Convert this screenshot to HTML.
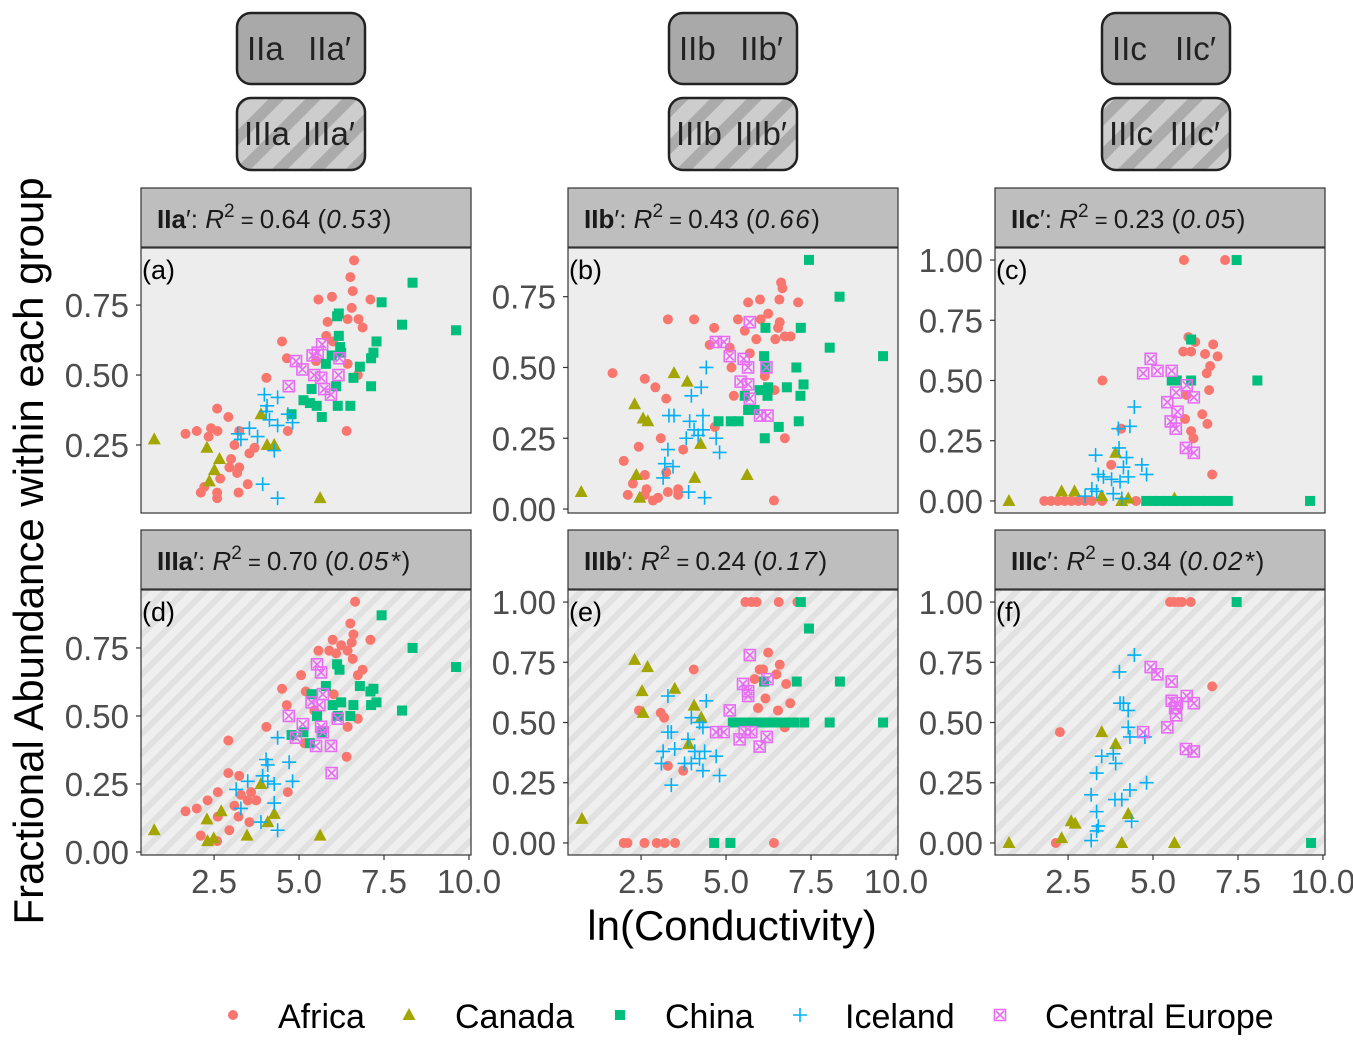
<!DOCTYPE html>
<html><head><meta charset="utf-8">
<style>
html,body{margin:0;padding:0;background:#fff;}
svg{display:block;font-family:"Liberation Sans",Arial,sans-serif;}
</style></head>
<body>
<svg id="chart" width="1353" height="1046" viewBox="0 0 1353 1046" xmlns="http://www.w3.org/2000/svg">
<defs>
<pattern id="hatch" patternUnits="userSpaceOnUse" width="14" height="14" patternTransform="rotate(45)">
<rect width="14" height="14" fill="#eeefee"/><rect width="6" height="14" fill="#e0e1e0"/>
</pattern>
<pattern id="hatchDark" patternUnits="userSpaceOnUse" width="26" height="26" patternTransform="rotate(45)">
<rect width="26" height="26" fill="#cdcdcd"/><rect width="11" height="26" fill="#ababab"/>
</pattern>
</defs>
<g id="root"></g>
</svg>
<script>
// ---- data: [ln(conductivity), fractional abundance] ----
const countries = ["Africa","Canada","China","Iceland","Central Europe"];
const panelLetters = ["(a)","(b)","(c)","(d)","(e)","(f)"];
const stripGroups = ["IIa′","IIb′","IIc′","IIIa′","IIIb′","IIIc′"];
const r2Values = ["0.64","0.43","0.23","0.70","0.24","0.34"];
const pValues = ["0.53","0.66","0.05","0.05*","0.17","0.02*"];
const topBoxLabels = [["IIa","IIa′"],["IIb","IIb′"],["IIc","IIc′"]];
const botBoxLabels = [["IIIa","IIIa′"],["IIIb","IIIb′"],["IIIc","IIIc′"]];
const xTicks = [2.5,5.0,7.5,10.0];
const xTickLabels = ["2.5","5.0","7.5","10.0"];
const yTicksA = [0.25,0.50,0.75];
const yTicksB = [0.00,0.25,0.50,0.75];
const yTicksC = [0.00,0.25,0.50,0.75,1.00];
const yTicksD = [0.00,0.25,0.50,0.75];

const aAfrica=[[6.62,0.91],[6.51,0.85],[6.58,0.80],[7.1,0.77],[5.97,0.78],[5.57,0.77],[6.55,0.74],[6.43,0.70],[6.75,0.70],[6.87,0.67],[5.84,0.69],[4.5,0.62],[4.64,0.56],[6.43,0.54],[6.73,0.50],[4.04,0.49],[6.4,0.30],[4.67,0.30],[2.59,0.38],[2.92,0.35],[1.66,0.29],[1.99,0.30],[2.41,0.31],[2.6,0.30],[2.34,0.28],[3.24,0.30],[3.1,0.25],[3.69,0.24],[3.54,0.22],[3.0,0.20],[2.95,0.17],[3.24,0.17],[3.18,0.15],[2.68,0.13],[3.49,0.11],[2.21,0.10],[2.11,0.08],[2.59,0.08],[2.59,0.06],[3.22,0.08],[5.8,0.64],[6.0,0.62],[5.5,0.55]];
const aCanada=[[0.74,0.27],[2.29,0.24],[2.66,0.20],[2.51,0.16],[2.36,0.12],[3.88,0.36],[4.06,0.25],[4.27,0.25],[5.62,0.06]];
const aChina=[[8.34,0.83],[7.43,0.76],[8.03,0.68],[9.62,0.66],[6.17,0.72],[6.12,0.71],[6.17,0.64],[6.21,0.60],[6.24,0.58],[5.96,0.57],[5.79,0.54],[7.28,0.62],[7.19,0.58],[7.12,0.56],[6.79,0.53],[6.6,0.49],[7.12,0.46],[6.09,0.46],[5.37,0.45],[5.13,0.41],[5.32,0.40],[5.52,0.39],[6.14,0.39],[6.51,0.39],[4.78,0.36],[5.67,0.35]];
const aIceland=[[3.98,0.43],[4.37,0.42],[4.06,0.39],[4.03,0.37],[4.67,0.36],[4.13,0.34],[4.37,0.32],[3.54,0.31],[3.2,0.29],[3.78,0.28],[3.29,0.27],[4.27,0.23],[3.93,0.11],[4.37,0.06],[4.81,0.33]];
const aEurope=[[5.68,0.61],[5.4,0.57],[4.91,0.55],[5.1,0.52],[5.45,0.50],[5.65,0.49],[6.16,0.50],[4.7,0.46],[5.74,0.45],[5.94,0.43],[6.19,0.56],[5.55,0.58]];

const bAfrica=[[6.62,0.80],[6.66,0.78],[6.0,0.74],[6.57,0.74],[7.12,0.73],[5.65,0.73],[6.24,0.69],[6.02,0.67],[6.58,0.66],[6.53,0.64],[6.9,0.61],[6.73,0.61],[6.45,0.60],[5.35,0.67],[5.55,0.63],[5.89,0.60],[3.29,0.67],[4.06,0.67],[4.65,0.64],[4.52,0.58],[5.11,0.57],[5.7,0.55],[5.16,0.50],[6.14,0.47],[6.43,0.42],[5.23,0.40],[1.66,0.48],[2.61,0.46],[2.92,0.43],[3.24,0.39],[4.67,0.29],[3.08,0.25],[2.43,0.22],[3.74,0.21],[1.99,0.17],[6.73,0.25],[3.24,0.13],[2.61,0.12],[2.26,0.09],[2.11,0.05],[2.61,0.05],[3.0,0.04],[3.29,0.06],[3.59,0.07],[3.59,0.05],[6.41,0.03],[2.66,0.07],[2.85,0.03]];
const bCanada=[[0.74,0.06],[2.31,0.37],[2.56,0.32],[2.7,0.31],[3.47,0.48],[3.86,0.45],[4.25,0.23],[4.08,0.11],[5.62,0.12],[2.36,0.12],[2.46,0.04]];
const bChina=[[7.44,0.88],[8.34,0.75],[8.05,0.57],[9.62,0.54],[6.16,0.64],[7.2,0.64],[6.12,0.54],[6.16,0.50],[7.07,0.50],[7.28,0.44],[7.19,0.40],[6.79,0.43],[6.24,0.43],[5.99,0.42],[6.22,0.40],[5.55,0.40],[5.65,0.35],[5.84,0.35],[4.78,0.31],[5.14,0.31],[5.37,0.31],[6.55,0.29],[7.14,0.31],[6.14,0.25]];
const bIceland=[[4.42,0.50],[4.27,0.43],[3.98,0.40],[3.32,0.33],[3.47,0.33],[4.32,0.33],[3.93,0.31],[4.06,0.28],[4.32,0.28],[3.83,0.25],[4.71,0.25],[4.81,0.20],[3.29,0.21],[3.2,0.16],[3.44,0.15],[3.15,0.11],[3.9,0.06],[4.37,0.04],[4.18,0.26]];
const bEurope=[[5.7,0.66],[4.7,0.59],[4.94,0.59],[5.11,0.54],[5.52,0.53],[5.65,0.50],[6.19,0.50],[5.43,0.45],[5.65,0.44],[5.7,0.39],[6.0,0.33],[6.22,0.33]];

const cAfrica=[[5.91,1.0],[7.12,1.0],[6.04,0.68],[6.24,0.66],[6.77,0.65],[5.89,0.62],[6.12,0.62],[6.53,0.61],[6.9,0.60],[6.68,0.56],[6.58,0.53],[3.51,0.50],[5.99,0.44],[6.65,0.46],[6.45,0.36],[6.6,0.32],[5.94,0.34],[6.12,0.29],[6.19,0.26],[4.06,0.30],[3.77,0.15],[6.74,0.11],[1.8,0],[2.0,0],[2.2,0],[2.4,0],[2.6,0],[2.8,0],[3.0,0],[3.2,0],[3.5,0],[4.5,0],[5.6,0]];
const cCanada=[[0.76,0.0],[2.31,0.04],[2.69,0.04],[3.9,0.2],[3.49,0.02],[4.08,0.0],[4.27,0.01],[5.63,0.01]];
const cChina=[[7.46,1.0],[6.12,0.67],[8.07,0.50],[5.55,0.50],[5.7,0.50],[6.12,0.50],[4.8,0],[5.0,0],[5.2,0],[5.4,0],[5.6,0],[5.8,0],[6.0,0],[6.2,0],[6.4,0],[6.6,0],[6.8,0],[7.0,0],[7.2,0],[9.62,0]];
const cIceland=[[4.45,0.39],[4.32,0.31],[3.98,0.30],[4.0,0.22],[3.31,0.19],[4.22,0.18],[4.13,0.14],[4.67,0.15],[4.81,0.11],[3.39,0.11],[3.54,0.10],[3.78,0.09],[4.03,0.08],[4.27,0.10],[3.2,0.05],[3.34,0.04],[3.83,0.03],[4.08,0.01],[3.0,0.02]];
const cEurope=[[4.93,0.59],[4.71,0.53],[5.13,0.54],[5.55,0.54],[5.99,0.48],[5.68,0.45],[6.2,0.43],[5.42,0.41],[5.72,0.37],[5.52,0.33],[5.67,0.30],[5.97,0.22],[6.2,0.20]];

const dAfrica=[[6.65,0.92],[6.51,0.84],[6.6,0.80],[7.1,0.78],[5.99,0.78],[6.24,0.76],[6.55,0.77],[5.57,0.74],[5.89,0.74],[6.09,0.73],[6.43,0.74],[6.58,0.71],[6.87,0.67],[6.73,0.65],[5.06,0.65],[4.5,0.60],[5.2,0.59],[6.02,0.58],[4.64,0.54],[5.45,0.52],[6.73,0.49],[6.43,0.46],[4.04,0.46],[5.16,0.40],[6.4,0.35],[2.92,0.41],[2.92,0.29],[3.24,0.28],[2.61,0.22],[2.31,0.19],[3.59,0.22],[4.67,0.22],[3.29,0.21],[3.49,0.19],[3.74,0.19],[3.1,0.17],[1.66,0.15],[1.99,0.16],[2.61,0.13],[3.22,0.13],[3.54,0.11],[2.95,0.08],[2.11,0.06],[2.59,0.04]];
const dCanada=[[0.74,0.08],[2.29,0.12],[2.71,0.15],[2.49,0.05],[2.31,0.04],[3.47,0.06],[4.08,0.11],[4.27,0.14],[5.62,0.06],[3.88,0.25]];
const dChina=[[7.43,0.87],[8.34,0.75],[9.62,0.68],[6.12,0.69],[6.19,0.67],[5.79,0.61],[6.79,0.61],[7.19,0.60],[7.1,0.59],[5.37,0.58],[6.24,0.55],[5.99,0.54],[6.6,0.54],[7.28,0.55],[7.12,0.54],[8.03,0.52],[5.53,0.50],[6.14,0.50],[6.51,0.50],[5.13,0.44],[5.67,0.44],[4.78,0.43],[5.32,0.40]];
const dIceland=[[4.37,0.42],[4.03,0.34],[4.08,0.32],[4.71,0.33],[3.93,0.28],[3.49,0.26],[3.15,0.23],[4.27,0.25],[4.81,0.26],[4.08,0.26],[4.27,0.18],[3.29,0.16],[3.88,0.11],[4.37,0.08]];
const dEurope=[[5.53,0.69],[5.65,0.66],[5.7,0.58],[5.37,0.55],[5.6,0.54],[4.7,0.50],[5.11,0.47],[5.65,0.46],[5.7,0.44],[6.14,0.49],[4.91,0.42],[5.5,0.39],[5.94,0.39],[5.96,0.29]];

const eAfrica=[[1.99,0],[2.1,0],[2.6,0],[2.96,0],[3.2,0],[3.5,0],[6.41,0],[5.57,1],[5.75,1],[5.9,1],[6.55,1],[7.1,1],[6.24,0.79],[6.58,0.74],[5.99,0.72],[6.09,0.72],[6.48,0.70],[5.84,0.68],[6.77,0.66],[6.16,0.60],[6.89,0.58],[5.94,0.56],[6.53,0.55],[4.05,0.72],[2.44,0.55],[3.08,0.54],[3.18,0.52],[3.29,0.32],[3.74,0.30],[6.73,0.48]];
const eCanada=[[2.31,0.76],[2.69,0.73],[2.53,0.63],[2.56,0.54],[3.49,0.64],[4.06,0.57],[4.27,0.52],[3.9,0.41],[0.76,0.10]];
const eChina=[[7.2,1.0],[7.44,0.89],[6.12,0.67],[7.08,0.67],[8.35,0.67],[5.2,0.5],[5.4,0.5],[5.6,0.5],[5.8,0.5],[6.0,0.5],[6.2,0.5],[6.4,0.5],[6.6,0.5],[6.8,0.5],[7.0,0.5],[7.3,0.5],[8.05,0.5],[9.62,0.5],[4.65,0],[5.13,0]];
const eIceland=[[3.29,0.61],[4.42,0.59],[3.98,0.52],[4.22,0.50],[4.32,0.48],[3.29,0.46],[3.39,0.46],[3.88,0.43],[3.49,0.39],[3.15,0.38],[4.08,0.38],[4.37,0.38],[4.71,0.36],[4.22,0.35],[3.98,0.33],[3.78,0.33],[4.32,0.30],[4.81,0.28],[3.39,0.24],[3.1,0.33]];
const eEurope=[[5.7,0.78],[5.5,0.66],[6.22,0.68],[5.65,0.63],[5.65,0.61],[5.11,0.55],[4.71,0.46],[4.93,0.46],[5.55,0.46],[5.74,0.46],[5.4,0.43],[5.99,0.40],[6.2,0.44]];

const fAfrica=[[5.5,1],[5.62,1],[5.75,1],[5.85,1],[6.11,1],[6.74,0.65],[2.26,0.46],[2.14,0.0]];
const fCanada=[[0.76,0.0],[3.49,0.46],[3.9,0.41],[2.59,0.09],[2.71,0.08],[2.31,0.02],[4.08,0.0],[4.27,0.12],[5.63,0.0]];
const fChina=[[7.46,1.0],[9.65,0.0]];
const fIceland=[[4.45,0.78],[4.01,0.71],[4.03,0.58],[4.13,0.58],[4.27,0.55],[4.27,0.48],[4.32,0.44],[4.76,0.44],[3.49,0.36],[3.83,0.37],[3.9,0.33],[3.34,0.29],[4.81,0.25],[4.32,0.22],[4.08,0.18],[3.88,0.18],[3.18,0.20],[3.34,0.13],[4.37,0.09],[3.39,0.07],[3.34,0.05],[3.18,0.01]];
const fEurope=[[4.93,0.73],[5.13,0.70],[5.55,0.67],[5.99,0.61],[5.55,0.59],[5.7,0.58],[6.2,0.58],[5.65,0.56],[5.68,0.53],[4.71,0.46],[5.42,0.48],[5.97,0.39],[6.2,0.38]];

const panelData = [
 [aAfrica,aCanada,aChina,aIceland,aEurope],
 [bAfrica,bCanada,bChina,bIceland,bEurope],
 [cAfrica,cCanada,cChina,cIceland,cEurope],
 [dAfrica,dCanada,dChina,dIceland,dEurope],
 [eAfrica,eCanada,eChina,eIceland,eEurope],
 [fAfrica,fCanada,fChina,fIceland,fEurope]
];

// ---- layout ----
const NS="http://www.w3.org/2000/svg";
const root=document.getElementById('root');
function el(tag,attrs,parent){const e=document.createElementNS(NS,tag);for(const k in attrs)e.setAttribute(k,attrs[k]);(parent||root).appendChild(e);return e;}
const colors=["#F8766D","#A3A500","#00BF7D","#00B0F6","#E76BF3"];
const colLeft=[141,568,995], panelW=330;
const boxCenters=[301,733,1166];
const rowTop=[248,590], panelH=[265,265];
const yDomains=[[0.007,0.954],[-0.014,0.922],[-0.05,1.05],[-0.011,0.963],[-0.05,1.05],[-0.05,1.05]];
const yTickSets=[yTicksA,yTicksB,yTicksC,yTicksD,yTicksC,yTicksC];
const xDomain=[0.35,10.06];

function drawMarker(g,type,cx,cy,col){
  let m;
  if(type===0){m=el('circle',{cx:cx,cy:cy,r:5,fill:col},g);}
  else if(type===1){m=el('polygon',{points:`${cx},${cy-7} ${cx+6.5},${cy+5} ${cx-6.5},${cy+5}`,fill:col},g);}
  else if(type===2){m=el('rect',{x:cx-5,y:cy-5,width:10,height:10,fill:col},g);}
  else if(type===3){m=el('path',{d:`M${cx-7},${cy}H${cx+7}M${cx},${cy-7}V${cy+7}`,stroke:col,'stroke-width':1.6,fill:'none'},g);}
  else {m=el('path',{d:`M${cx-5.5},${cy-5.5}h11v11h-11zM${cx-4},${cy-4}L${cx+4},${cy+4}M${cx+4},${cy-4}L${cx-4},${cy+4}`,stroke:col,'stroke-width':1.6,fill:'none'},g);}
  return m;
}

// top boxes
for(let c=0;c<3;c++){
  const cx=boxCenters[c];
  const g1=el('g',{});
  
  
  el('rect',{x:cx-64,y:13,width:128,height:71,rx:14,fill:'#a9a9a9',stroke:'#222','stroke-width':2.5},g1);
  const t1a=el('text',{x:cx-54,y:60,'font-size':33,fill:'#222'},g1);
  t1a.textContent=topBoxLabels[c][0];
  const t1b=el('text',{x:cx+50,y:60,'text-anchor':'end','font-size':33,fill:'#222'},g1);
  t1b.textContent=topBoxLabels[c][1];
  const g2=el('g',{});
  
  
  el('rect',{x:cx-64,y:98,width:128,height:72,rx:14,fill:'url(#hatchDark)',stroke:'#222','stroke-width':2.5},g2);
  const t2a=el('text',{x:cx-57,y:145,'font-size':33,fill:'#222'},g2);
  t2a.textContent=botBoxLabels[c][0];
  const t2b=el('text',{x:cx+54,y:145,'text-anchor':'end','font-size':33,fill:'#222'},g2);
  t2b.textContent=botBoxLabels[c][1];
}

for(let p=0;p<6;p++){
  const c=p%3, r=Math.floor(p/3);
  const L=colLeft[c], T=rowTop[r], H=panelH[r];
  const yd=yDomains[p];
  const xs=v=>L+(v-xDomain[0])/(xDomain[1]-xDomain[0])*panelW;
  const ys=v=>T+H-(v-yd[0])/(yd[1]-yd[0])*H;
  const sg=el('g',{});
  
  
  el('rect',{x:L,y:T-60,width:panelW,height:59,fill:'#bebebe',stroke:'#333','stroke-width':1.2},sg);
  const st=el('text',{x:L+16,y:T-20,'font-size':26,fill:'#1a1a1a'},sg);
  st.innerHTML=`<tspan font-weight="bold">${stripGroups[p].replace('′','')}</tspan><tspan>′: </tspan><tspan font-style="italic">R</tspan><tspan dy="-11" font-size="19">2</tspan><tspan dy="11" font-size="22"> = </tspan><tspan>${r2Values[p]} (</tspan><tspan font-style="italic" letter-spacing="1.5">${pValues[p]}</tspan><tspan>)</tspan>`;
  const pg=el('g',{});
  
  
  el('rect',{x:L,y:T,width:panelW,height:H,fill:r===0?'#ecedec':'url(#hatch)'},pg);
  const clipId='clip'+p;
  const cp=el('clipPath',{id:clipId},pg);
  el('rect',{x:L,y:T,width:panelW,height:H},cp);
  const mg=el('g',{'clip-path':`url(#${clipId})`},pg);
  for(let s=0;s<5;s++){
    const sgp=el('g',{},mg);
    
    
    panelData[p][s].forEach(d=>{
      const m=drawMarker(sgp,s,xs(d[0]),ys(d[1]),colors[s]);
      
      
    });
  }
  el('rect',{x:L,y:T,width:panelW,height:H,fill:'none',stroke:'#333','stroke-width':1.2},pg);
  const lt=el('text',{x:L+1,y:T+31,'font-size':27,fill:'#000'},pg);
  lt.textContent=panelLetters[p];
  
  yTickSets[p].forEach(v=>{
    const y=ys(v);
    el('line',{x1:L-5,x2:L,y1:y,y2:y,stroke:'#333','stroke-width':1.2},pg);
    const t=el('text',{x:L-12,y:y+12,'text-anchor':'end','font-size':33,fill:'#4d4d4d'},pg);
    t.textContent=v.toFixed(2);
    
    
  });
  if(r===1){
    xTicks.forEach((v,i)=>{
      const x=xs(v);
      el('line',{x1:x,x2:x,y1:T+H,y2:T+H+5,stroke:'#333','stroke-width':1.2},pg);
      const t=el('text',{x:x,y:T+H+38,'text-anchor':'middle','font-size':33,fill:'#4d4d4d'},pg);
      t.textContent=xTickLabels[i];
      
      
    });
  }
}

const yt=el('text',{x:0,y:0,transform:'translate(43,551) rotate(-90)','text-anchor':'middle','font-size':42,fill:'#000'});
yt.textContent='Fractional Abundance within each group';


const xt=el('text',{x:732,y:940,'text-anchor':'middle','font-size':42,fill:'#000'});
xt.textContent='ln(Conductivity)';



const legX=[233,409,620,800,1000], legTX=[278,455,665,845,1045];
const lg=el('g',{});


for(let s=0;s<5;s++){
  const e=el('g',{},lg);
  
  
  drawMarker(e,s,legX[s],1015,colors[s]);
  const t=el('text',{x:legTX[s],y:1028,'font-size':34,fill:'#000'},e);
  t.textContent=countries[s];
}
</script>
</body></html>
